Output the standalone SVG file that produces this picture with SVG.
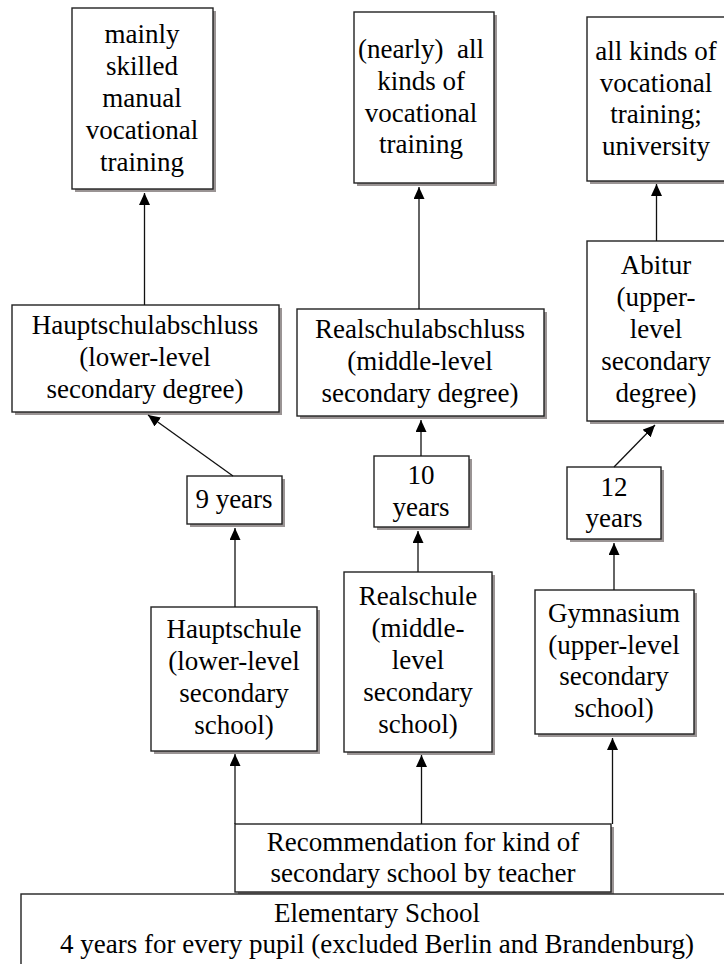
<svg xmlns="http://www.w3.org/2000/svg" width="724" height="964" viewBox="0 0 724 964">
  <style>
    .shadow { fill: #9a9494; }
    .box { fill: #ffffff; stroke: #222222; stroke-width: 1.4; }
    text { font-family: 'Liberation Serif', serif; font-size: 27px; fill: #000000; text-anchor: middle; white-space: pre; }
    .edge { stroke: #111111; stroke-width: 1.3; fill: none; marker-end: url(#arrow); }
  </style>
  <defs>
    <marker id="arrow" markerWidth="12" markerHeight="11" refX="12" refY="5.5" orient="auto" markerUnits="userSpaceOnUse">
      <path d="M0,0 L12,5.5 L0,11 z" fill="#000000"/>
    </marker>
  </defs>
  <rect width="724" height="964" fill="#ffffff"/>

  <!-- outcomes -->
  <g id="outcome-manual" font-family="Liberation Serif, serif">
    <rect class="shadow" x="75" y="11" width="141" height="181"/>
    <rect class="box" x="72" y="8" width="141" height="181"/>
    <text x="142" y="43">mainly</text>
    <text x="142" y="75">skilled</text>
    <text x="142" y="107">manual</text>
    <text x="142" y="139">vocational</text>
    <text x="142" y="171">training</text>
  </g>
  <g id="outcome-vocational">
    <rect class="shadow" x="357" y="15" width="140" height="171"/>
    <rect class="box" x="354" y="12" width="140" height="171"/>
    <text x="421" y="58">(nearly)  all</text>
    <text x="421" y="90">kinds of</text>
    <text x="421" y="122">vocational</text>
    <text x="421" y="153">training</text>
  </g>
  <g id="outcome-university">
    <rect class="shadow" x="590" y="20" width="140" height="164"/>
    <rect class="box" x="587" y="17" width="140" height="164"/>
    <text x="656" y="60">all kinds of</text>
    <text x="656" y="92">vocational</text>
    <text x="656" y="123">training;</text>
    <text x="656" y="155">university</text>
  </g>

  <!-- degrees -->
  <g id="hauptschulabschluss">
    <rect class="shadow" x="15" y="308" width="267" height="107"/>
    <rect class="box" x="12" y="305" width="267" height="107"/>
    <text x="145" y="334">Hauptschulabschluss</text>
    <text x="145" y="366">(lower-level</text>
    <text x="145" y="398">secondary degree)</text>
  </g>
  <g id="realschulabschluss">
    <rect class="shadow" x="300" y="312" width="247" height="107"/>
    <rect class="box" x="297" y="309" width="247" height="107"/>
    <text x="420" y="338">Realschulabschluss</text>
    <text x="420" y="370">(middle-level</text>
    <text x="420" y="402">secondary degree)</text>
  </g>
  <g id="abitur">
    <rect class="shadow" x="590" y="244" width="140" height="180"/>
    <rect class="box" x="587" y="241" width="140" height="180"/>
    <text x="656" y="274">Abitur</text>
    <text x="656" y="306">(upper-</text>
    <text x="656" y="338">level</text>
    <text x="656" y="370">secondary</text>
    <text x="656" y="402">degree)</text>
  </g>

  <!-- durations -->
  <g id="years-9">
    <rect class="shadow" x="190" y="479" width="95" height="48"/>
    <rect class="box" x="187" y="476" width="95" height="48"/>
    <text x="234" y="508">9 years</text>
  </g>
  <g id="years-10">
    <rect class="shadow" x="377" y="459" width="95" height="71"/>
    <rect class="box" x="374" y="456" width="95" height="71"/>
    <text x="421" y="484">10</text>
    <text x="421" y="516">years</text>
  </g>
  <g id="years-12">
    <rect class="shadow" x="570" y="470" width="94" height="72"/>
    <rect class="box" x="567" y="467" width="94" height="72"/>
    <text x="614" y="496">12</text>
    <text x="614" y="527">years</text>
  </g>

  <!-- secondary schools -->
  <g id="hauptschule">
    <rect class="shadow" x="154" y="610" width="166" height="144"/>
    <rect class="box" x="151" y="607" width="166" height="144"/>
    <text x="234" y="638">Hauptschule</text>
    <text x="234" y="670">(lower-level</text>
    <text x="234" y="702">secondary</text>
    <text x="234" y="734">school)</text>
  </g>
  <g id="realschule">
    <rect class="shadow" x="347" y="575" width="148" height="180"/>
    <rect class="box" x="344" y="572" width="148" height="180"/>
    <text x="418" y="605">Realschule</text>
    <text x="418" y="637">(middle-</text>
    <text x="418" y="669">level</text>
    <text x="418" y="701">secondary</text>
    <text x="418" y="733">school)</text>
  </g>
  <g id="gymnasium">
    <rect class="shadow" x="538" y="593" width="159" height="144"/>
    <rect class="box" x="535" y="590" width="159" height="144"/>
    <text x="614" y="622">Gymnasium</text>
    <text x="614" y="654">(upper-level</text>
    <text x="614" y="685">secondary</text>
    <text x="614" y="717">school)</text>
  </g>

  <!-- recommendation and elementary school -->
  <g id="recommendation">
    <rect class="shadow" x="238" y="827" width="376" height="68"/>
    <rect class="box" x="235" y="824" width="376" height="68"/>
    <text x="423" y="851">Recommendation for kind of</text>
    <text x="423" y="882">secondary school by teacher</text>
  </g>
  <g id="elementary">
    <rect class="box" x="21" y="894" width="712" height="80"/>
    <text x="377" y="922">Elementary School</text>
    <text x="377" y="953">4 years for every pupil (excluded Berlin and Brandenburg)</text>
  </g>

  <!-- connectors -->
  <g id="connectors">
    <line class="edge" x1="235" y1="824" x2="235" y2="754"/>
    <line class="edge" x1="421.5" y1="824" x2="421.5" y2="755"/>
    <line class="edge" x1="612.5" y1="824" x2="612.5" y2="738"/>
    <line class="edge" x1="235" y1="607" x2="235" y2="528"/>
    <line class="edge" x1="418" y1="572" x2="418" y2="531"/>
    <line class="edge" x1="614" y1="590" x2="614" y2="543"/>
    <line class="edge" x1="233" y1="476" x2="148" y2="415"/>
    <line class="edge" x1="421" y1="456" x2="421" y2="420"/>
    <line class="edge" x1="614" y1="467" x2="655" y2="425"/>
    <line class="edge" x1="144.5" y1="305" x2="144.5" y2="193"/>
    <line class="edge" x1="419" y1="309" x2="419" y2="187"/>
    <line class="edge" x1="656.5" y1="241" x2="656.5" y2="184"/>
  </g>
</svg>
